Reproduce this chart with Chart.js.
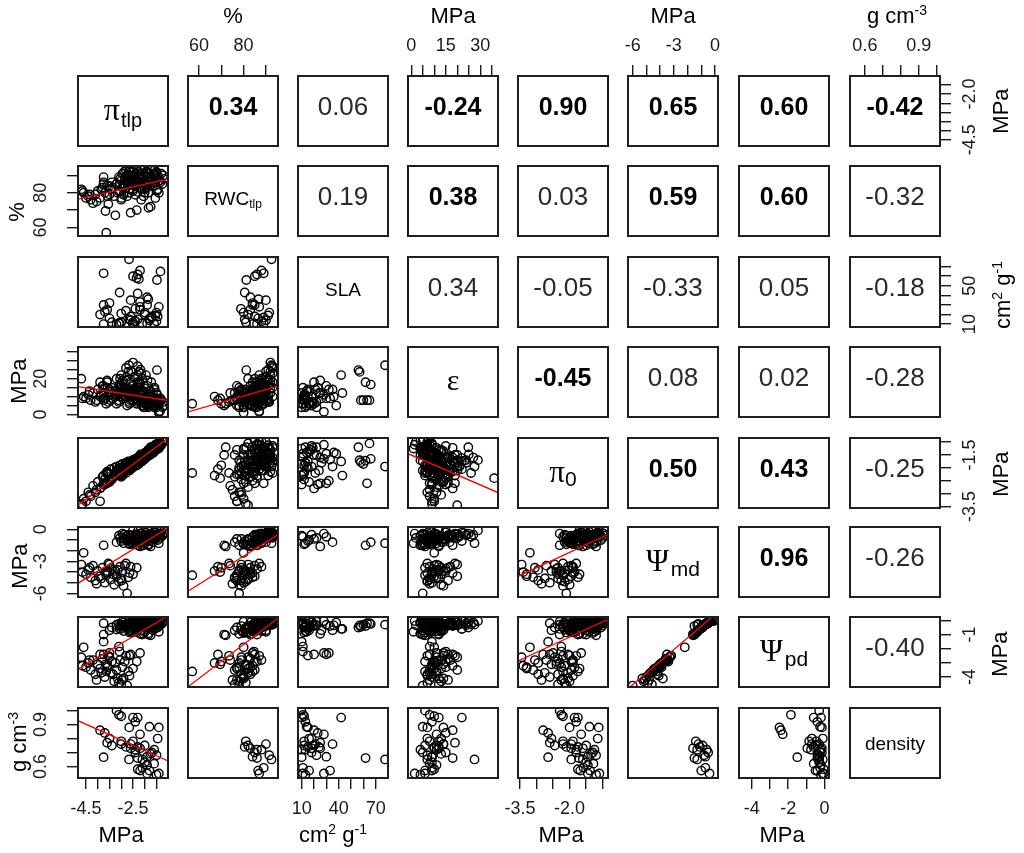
<!DOCTYPE html>
<html>
<head>
<meta charset="utf-8">
<script src="https://cdn.jsdelivr.net/npm/chart.js@4.4.1/dist/chart.umd.min.js"></script>
<style>
  body { margin: 0; background: #fff; width: 1024px; height: 853px; position: relative; overflow: hidden;
         font-family: "Liberation Sans", Arial, sans-serif; }
  canvas { position: absolute; }
  .cell { position: absolute; width: 90px; height: 70px; display: flex; align-items: center; justify-content: center;
          pointer-events: none; white-space: nowrap; line-height: 1; }
  .r { font-size: 26px; color: #2a2a2a; transform: translateY(-5px); }
  .r.sig { font-weight: bold; font-size: 25px; color: #000; }
  .sym { font-family: "Liberation Serif", "DejaVu Serif", serif; }
  .sub { position: relative; }
  .ttl { position: absolute; font-size: 22px; color: #000; white-space: nowrap; line-height: 1;
         transform: translate(-50%, -50%); }
  .ttl.rot { transform: translate(-50%, -50%) rotate(-90deg); }
  .ttl sup { font-size: 14px; vertical-align: 0; position: relative; top: -0.6em; }
</style>
</head>
<body>
<script>
const na = n => Array(n).fill(null)

// one entry per observation; groups: upper water-potential cluster (52), lower cluster (33),
// full records (13), high SLA (9), SLA without Ψmd (11), density records (22), density only (9), ε only (1),
// more upper cluster (20), more lower cluster (10)
const tlp = [
  -1.18,-1.25,-1.3,-1.35,-1.4,-1.45,-1.5,-1.55,-1.6,-1.65,
  -1.7,-1.72,-1.78,-1.8,-1.85,-1.9,-1.92,-1.95,-2.0,-2.05,
  -2.1,-2.12,-2.18,-2.2,-2.25,-2.3,-2.35,-2.4,-2.45,-2.5,
  -2.55,-2.6,-2.65,-2.7,-2.75,-2.8,-2.85,-2.9,-2.95,-3.0,
  -3.1,-3.2,-2.05,-1.75,-1.62,-2.28,-1.4,-2.62,-1.84,-2.15,
  -1.55,-2.9,
  -4.7,-4.6,-4.5,-4.4,-4.3,-4.2,-4.1,-4.0,-3.9,-3.8,
  -3.75,-3.7,-3.64,-3.6,-3.5,-3.45,-3.4,-3.3,-3.25,-3.2,
  -3.1,-3.05,-3.0,-2.95,-2.9,-2.8,-2.75,-2.7,-2.6,-2.5,
  -2.34,-3.55,-3.67,
  -2.5,-2.3,-2.0,-2.2,-1.9,-1.7,-2.6,-1.6,-1.5,-2.4,-1.4,-1.8,-2.1,
  -2.67,-2.3,-2.2,-2.5,-3.75,-1.48,-2.25,-1.33,-2.35,
  -3.07,-1.9,-1.85,-3.5,-3.75,-2.4,-2.0,-1.7,-2.6,-3.07,-1.55,
  -3.2,-3.1,-3.0,-2.5,-2.4,-2.3,-2.66,-1.8,-2.2,-1.45,
  -3.9,-3.7,-3.5,-3.6,-3.4,-3.75,-3.0,-2.8,-2.6,-2.2,
  -1.9,-1.5,
  -2.0,-1.9,-2.1,-1.75,-2.4,-1.6,-2.3,-3.0,-1.4,
  null,
  -1.22,-1.33,-1.48,-1.58,-1.68,-1.82,-1.88,-1.98,-2.02,-2.08,
  -2.15,-2.22,-2.32,-2.38,-2.48,-2.58,-2.68,-2.78,-2.88,-3.05,
  -4.65,-4.35,-4.05,-3.85,-3.58,-3.35,-3.15,-2.98,-2.85,-2.65
]
const rwc = [
  88,85,91,87,89,82,92,86,90,84,
  88,93,86,91,80,89,87,92,85,90,
  88,83,91,86,89,93,84,87,90,92,
  85,88,82,90,86,93,88,84,91,87,
  89,85,78,72,91,92,80,93,71.3,76,
  77,79,
  82,80,77,78,76,74,79,81,77,83,
  86,80,57,84,79,82,86,78,67,85,
  81,88,76,83,79,87,78,84,68.5,82,
  70,73.5,69.5,
  81,80.5,82,83,84,85,90,86,91.5,88,87,86.5,89,
  92.5,86,88,85,89,81.2,null,null,null,
  80.5,83,86.7,84,85,78.8,80,89,90,84.6,91,
  ...na(22),
  ...na(9),
  null,
  90,86,88,93,87,89,92,86,91,88,
  93,90,87,91,89,92,87,90,92,88,
  81,79,75,82,78,83,80,77,85,80
]
const sla = [
  ...na(52),
  ...na(33),
  12,15,20,25,30,18,35,10,22,13,28,16,11,
  77.6,61.8,66,60,63,56,57,65,58,
  43,38,36,32,30,26,22,17,14,11,19,
  9.7,11,12,10,13,42,15,14,28,18,
  20,23,16,25,12,10,21,24,18,33,
  11,13,
  ...na(9),
  null,
  ...na(20),
  ...na(10)
]
const eps = [
  5,4,8,2,6,9,12,7,14,5,
  10,18,8,11,4,16,6,22,9,13,
  20,5,25,11,17,27,7,14,21,29,
  10,18,6,24,12,26,15,9,19,22,
  16,13,4,6,9,15,1,10,5,8,
  5,11,
  20,10,9,11,8,12,7,14,10,16,
  12,9,6,18,11,8,15,13,10,20,
  7,17,12,9,14,19,5,11,8,13,
  6,7,9,
  8,10,6,12,9,5,14,4,7,11,1.5,6,9,
  27.5,18,16.7,8,8,24.8,23.8,8,8,
  12,5,10,14,16,9,4,6,13,15,7,
  6,8,10,12,9,22,14,5,11,7,
  18,15,13,19,11,9,14,12,10,9,
  6,4,
  9,11,7,13,15,8,10,12,7,
  36,
  7,9,11,15,8,13,19,10,16,12,
  23,18,12,20,16,24,14,21,17,20,
  9,13,8,11,15,9,12,16,10,7
]
const pi0 = [
  -0.98,-0.95,-1.12,-1.0,-1.2,-1.05,-1.3,-1.1,-1.35,-1.18,
  -1.45,-1.22,-1.25,-1.52,-1.3,-1.55,-1.38,-1.62,-1.42,-1.68,
  -1.5,-1.75,-1.48,-1.58,-1.85,-1.6,-1.9,-1.65,-1.95,-1.7,
  -2.02,-1.75,-2.1,-1.8,-1.85,-2.2,-1.9,-2.0,-2.3,-2.05,
  -2.1,-2.15,-1.7,-1.2,-1.4,-1.6,-1.25,-1.8,-1.5,-1.5,
  -1.3,-1.95,
  -3.45,-3.2,-3.3,-2.95,-3.1,-2.7,-2.95,-2.55,-3.3,-2.35,
  -2.3,-2.6,-2.2,-2.15,-2.45,-2.05,-2.4,-2.0,-2.3,-1.95,
  -2.15,-1.9,-2.35,-1.85,-2.2,-1.8,-2.1,-1.75,-2.05,-1.7,
  -1.9,-2.2,-2.4,
  -1.9,-1.75,-1.5,-1.6,-1.45,-1.3,-1.95,-1.25,-1.2,-1.8,-1.1,-1.38,-1.58,
  -1.95,-1.72,-1.65,-1.85,-2.6,-1.2,-1.7,-1.05,-1.78,
  -2.3,-1.45,-1.4,-2.5,-2.6,-1.8,-1.5,-1.3,-1.95,-2.25,-1.22,
  -2.3,-2.25,-2.2,-1.85,-1.8,-1.75,-2.0,-1.4,-1.65,-1.15,
  -2.8,-2.65,-2.55,-2.6,-2.45,-2.65,-2.2,-2.1,-1.95,-1.68,
  -1.45,-1.2,
  -1.5,-1.45,-1.6,-1.35,-1.8,-1.28,-1.75,-2.2,-1.12,
  -2.4,
  -1.0,-1.08,-1.22,-1.15,-1.4,-1.3,-1.5,-1.45,-1.6,-1.52,
  -1.72,-1.6,-1.8,-1.7,-1.92,-1.8,-2.05,-1.9,-2.15,-2.1,
  -3.4,-3.05,-2.85,-2.75,-2.25,-2.35,-2.05,-2.25,-1.95,-1.9
]
const psiMd = [
  -0.4,-0.6,-0.15,-0.8,-0.5,-1.0,-0.05,-0.7,-0.9,-1.2,
  -0.4,-0.6,-1.1,-0.5,-1.4,-0.7,-0.9,-0.3,-1.3,-0.6,
  -0.8,-1.5,-0.4,-1.0,-0.7,-0.5,-1.2,-0.9,-0.6,-0.1,
  -1.1,-0.8,-1.4,-0.5,-1.0,-0.7,-0.9,-1.3,-0.4,-1.1,
  -0.6,-1.2,-1.5,-1.6,-0.25,-0.1,-1.3,-0.8,-1.5,-1.2,
  -0.9,-0.9,
  -3.3,-2.2,-4.2,-3.8,-4.5,-3.4,-4.8,-3.9,-4.4,-3.6,
  -1.5,-5.0,-4.3,-4.1,-3.3,-4.7,-3.7,-5.2,-3.9,-4.4,
  -4.9,-3.5,-4.6,-4.0,-5.3,-3.2,-6.0,-4.5,-3.5,-4.2,
  -3.6,-3.2,-4.0,
  -1.4,-1.1,-0.9,-1.6,-0.7,-0.5,-1.2,-0.6,-0.8,-1.3,-0.4,-1.0,-0.7,
  -1.3,-1.5,-1.2,null,null,null,null,null,null,
  ...na(11),
  ...na(22),
  ...na(9),
  null,
  -0.35,-0.55,-0.45,-0.3,-0.75,-0.65,-0.45,-0.95,-0.55,-0.75,
  -0.35,-0.6,-0.85,-0.45,-0.7,-0.55,-0.95,-0.65,-0.5,-0.8,
  -4.0,-3.6,-5.1,-4.6,-3.9,-4.2,-3.8,-4.8,-3.4,-4.1
]
const psiPd = [
  -0.05,-0.2,0.0,-0.35,-0.15,-0.5,-0.02,-0.3,-0.4,-0.7,
  -0.1,-0.25,-0.6,-0.2,-0.9,-0.3,-0.45,-0.05,-0.8,-0.2,
  -0.35,-1.0,-0.1,-0.55,-0.3,-0.15,-0.7,-0.4,-0.25,-0.05,
  -0.6,-0.35,-0.85,-0.2,-0.5,-0.3,-0.45,-0.75,-0.1,-0.6,
  -0.25,-0.65,-0.95,-1.05,-0.05,0.0,-0.8,-0.3,-1.0,-0.7,
  -0.5,-0.4,
  -2.6,-1.9,-3.3,-3.0,-3.5,-2.8,-3.8,-3.1,-3.4,-2.7,
  -1.0,-4.0,-3.6,-3.2,-2.6,-3.7,-2.9,-4.3,-3.0,-3.5,
  -4.4,-2.8,-4.5,-3.3,-4.1,-2.5,-4.6,-3.6,-2.4,-3.4,
  -2.9,-2.5,-3.1,
  -0.85,-0.6,-0.4,-0.95,-0.3,-0.15,-0.7,-0.2,-0.35,-0.75,-0.05,-0.5,-0.25,
  -0.3,-0.4,-0.25,-0.3,-0.2,-0.5,-0.35,-0.2,-0.45,
  -0.6,-0.15,-0.35,-2.3,-2.4,-0.7,-0.1,-0.45,-0.8,-2.2,-0.3,
  -0.3,-1.85,null,-0.2,-0.4,-0.6,-2.48,-0.25,-2.3,-0.1,
  -2.4,null,-0.7,null,-0.5,-1.5,-0.3,null,-0.15,-0.4,
  -0.1,-0.2,
  -0.3,-0.2,-0.1,-0.4,-0.25,-0.6,-0.05,-0.45,-0.15,
  null,
  -0.1,-0.2,-0.12,-0.05,-0.3,-0.25,-0.12,-0.45,-0.18,-0.3,
  -0.08,-0.22,-0.4,-0.15,-0.3,-0.2,-0.45,-0.25,-0.15,-0.35,
  -3.2,-2.8,-4.2,-3.7,-3.3,-3.8,-4.1,-4.2,-2.9,-3.9
]
const dens = [
  ...na(52),
  ...na(33),
  0.78,0.74,0.75,0.73,0.67,0.70,0.76,0.72,0.68,0.72,0.55,0.57,0.59,
  0.65,0.66,null,null,null,null,null,null,null,
  ...na(11),
  1.0,0.97,0.96,0.95,0.92,0.95,0.88,0.885,0.83,0.80,
  0.86,0.84,0.80,0.77,0.75,0.666,0.76,0.74,0.73,0.57,
  0.55,0.54,
  0.63,0.61,0.65,0.69,0.70,0.62,0.58,0.78,0.88,
  null,
  ...na(20),
  ...na(10)
]

// variable order: πtlp, RWCtlp, SLA, ε, π0, Ψmd, Ψpd, density
const vars = [tlp, rwc, sla, eps, pi0, psiMd, psiPd, dens]
const axisMin = [-4.84, 55.1, 7, -1.4, -3.56, -6.34, -4.70, 0.517]
const axisMax = [-1.01, 95.4, 80, 37.7, -0.84, 0.22, 0.24, 1.019]
const tickMarks = [
  [-4.5, -4, -3.5, -3, -2.5, -2, -1.5],
  [60, 70, 80, 90],
  [10, 20, 30, 40, 50, 60, 70],
  [0, 5, 10, 15, 20, 25, 30, 35],
  [-3.5, -3, -2.5, -2, -1.5, -1],
  [-6, -5, -4, -3, -2, -1, 0],
  [-4, -3, -2, -1, 0],
  [0.6, 0.7, 0.8, 0.9, 1.0]
]
const xTickLabels = [['-4.5','-2.5'], ['60','80'], ['10','40','70'], ['0','15','30'], ['-3.5','-2.0'], ['-6','-3','0'], ['-4','-2','0'], ['0.6','0.9']]
const yTickLabels = [['-4.5','-2.0'], ['60','80'], ['10','50'], ['0','20'], ['-3.5','-1.5'], ['-6','-3','0'], ['-4','-1'], ['0.6','0.9']]

// fitted lines in significant panels: [row variable, column variable], value at left and right axis limit
const fitPairs = [[1,0],[3,0],[4,0],[5,0],[6,0],[7,0],[3,1],[5,1],[6,1],[4,3],[5,4],[6,4],[6,5]]
const fitLeft  = [76.3, 15.6, -3.45, -5.06, -3.45, 0.928, 1.5, -5.8, -4.68, -1.45, -4.4, -2.86, -4.82]
const fitRight = [87.8, 7.8, -0.85, 0.15, 0.33, 0.64, 15.9, -0.48, 0.15, -2.96, -0.48, 0.08, 0.6]

// correlations, upper triangle in reading order
const corr = ['0.34','0.06','-0.24','0.90','0.65','0.60','-0.42',
              '0.19','0.38','0.03','0.59','0.60','-0.32',
              '0.34','-0.05','-0.33','0.05','-0.18',
              '-0.45','0.08','0.02','-0.28',
              '0.50','0.43','-0.25',
              '0.96','-0.26',
              '-0.40']
const corrBold = [1,0,1,1,1,1,1, 0,1,0,1,1,0, 0,0,0,0,0, 1,0,0,0, 1,1,0, 1,0, 0]

const varSym = ['π', 'RWC', 'SLA', 'ε', 'π', 'Ψ', 'Ψ', 'density']
const varSub = ['tlp', 'tlp', '', '', '0', 'md', 'pd', '']

// layout
const P = 80, W = 90, H = 70
const colLeft = [78, 188, 298, 408, 518, 628, 739, 850]
const rowTop = [76, 166, 257, 347, 438, 527, 617, 708]
const tickFont = 18
const fontFamily = '"Liberation Sans", Arial, sans-serif'

Chart.defaults.font.family = fontFamily
Chart.defaults.font.size = tickFont
Chart.defaults.color = '#1a1a1a'

const mctx = document.createElement('canvas').getContext('2d')
mctx.font = tickFont + 'px "Liberation Sans"'
const widest = labels => Math.max(...labels.map(l => mctx.measureText(l).width))

const panelBox = {
  id: 'panelBox',
  afterDraw(chart) {
    const { ctx, chartArea: a } = chart
    ctx.save()
    ctx.strokeStyle = '#1e1e1e'
    ctx.lineWidth = 2
    ctx.strokeRect(a.left, a.top, a.right - a.left, a.bottom - a.top)
    ctx.restore()
  }
}

function axisOpts(v, pos, shown) {
  const horiz = pos === 'top' || pos === 'bottom'
  const labels = horiz ? xTickLabels[v] : yTickLabels[v]
  const opts = { type: 'linear', position: pos, min: axisMin[v], max: axisMax[v], display: shown }
  if (!shown) return opts
  const tl = 11
  const half = tickFont * 0.6
  let pad
  if (pos === 'top') pad = 30 - tl - half
  else if (pos === 'bottom') pad = 31 - tl - half
  else if (pos === 'left') pad = 37 - tl - widest(labels) / 2
  else pad = 30 - tl - widest(labels) / 2
  return Object.assign(opts, {
    afterBuildTicks: s => { s.ticks = tickMarks[v].map(t => ({ value: t })) },
    afterFit: s => { if (horiz) s.height = P; else s.width = P },
    grid: { drawOnChartArea: false, drawTicks: true, tickLength: tl, color: '#1a1a1a', lineWidth: 1.4 },
    border: { display: false },
    ticks: {
      autoSkip: false,
      padding: pad,
      color: '#1a1a1a',
      font: { family: fontFamily, size: tickFont },
      minRotation: horiz ? 0 : 90,
      maxRotation: horiz ? 0 : 90,
      crossAlign: horiz ? 'near' : 'center',
      callback: val => labels.find(l => Math.abs(parseFloat(l) - val) < 1e-6) || ''
    }
  })
}

for (let r = 0; r < 8; r++) {
  for (let c = 0; c < 8; c++) {
    const cv = document.createElement('canvas')
    cv.width = W + 2 * P
    cv.height = H + 2 * P
    cv.style.left = (colLeft[c] - P) + 'px'
    cv.style.top = (rowTop[r] - P) + 'px'
    document.body.appendChild(cv)

    const top = r === 0 && c % 2 === 1
    const bottom = r === 7 && c % 2 === 0
    const left = c === 0 && r % 2 === 1
    const right = c === 7 && r % 2 === 0

    const datasets = []
    if (r > c) {
      const k = fitPairs.findIndex(p => p[0] === r && p[1] === c)
      if (k >= 0) {
        datasets.push({
          data: [{ x: axisMin[c], y: fitLeft[k] }, { x: axisMax[c], y: fitRight[k] }],
          showLine: true, borderColor: '#ff0000', borderWidth: 1.3, pointRadius: 0, clip: 0
        })
      }
      const pts = []
      vars[c].forEach((x, i) => {
        const y = vars[r][i]
        if (x !== null && y !== null) pts.push({ x, y })
      })
      datasets.push({
        data: pts, pointRadius: 4.2, pointBorderWidth: 1.4,
        pointBorderColor: '#000', pointBackgroundColor: 'rgba(0,0,0,0)'
      })
    }

    new Chart(cv, {
      type: 'scatter',
      data: { datasets },
      options: {
        responsive: false,
        animation: false,
        events: [],
        layout: { padding: { left: left ? 0 : P, right: right ? 0 : P, top: top ? 0 : P, bottom: bottom ? 0 : P } },
        plugins: { legend: { display: false }, tooltip: { enabled: false } },
        scales: {
          x: axisOpts(c, top ? 'top' : 'bottom', top || bottom),
          y: axisOpts(r, right ? 'right' : 'left', left || right)
        }
      },
      plugins: [panelBox]
    })
  }
}

function addCell(r, c, html) {
  const d = document.createElement('div')
  d.className = 'cell'
  d.style.left = colLeft[c] + 'px'
  d.style.top = rowTop[r] + 'px'
  d.innerHTML = html
  document.body.appendChild(d)
}

let k = 0
for (let r = 0; r < 8; r++) {
  for (let c = r + 1; c < 8; c++) {
    addCell(r, c, `<span class="r${corrBold[k] ? ' sig' : ''}">${corr[k]}</span>`)
    k++
  }
}

// diagonal labels: greek symbols in serif, the rest in sans
const diagStyle = [
  { sym: 'font-size:32px', sub: 'font-size:20px;top:7px;margin-left:1px', shift: -2 },
  { sym: 'font-size:19px', sub: 'font-size:12px;top:3px', shift: -3 },
  { sym: 'font-size:19px', sub: '', shift: -3 },
  { sym: 'font-size:30px', sub: '', shift: -2 },
  { sym: 'font-size:31px', sub: 'font-size:21px;top:4px', shift: -2 },
  { sym: 'font-size:31px', sub: 'font-size:21px;top:5px;margin-left:2px', shift: -2 },
  { sym: 'font-size:31px', sub: 'font-size:21px;top:5px;margin-left:2px', shift: -2 },
  { sym: 'font-size:19px', sub: '', shift: 0 }
]
for (let i = 0; i < 8; i++) {
  const s = diagStyle[i]
  const greek = i === 0 || i >= 3 && i <= 6
  let html = `<span class="${greek ? 'sym' : ''}" style="${s.sym}">${varSym[i]}</span>`
  if (varSub[i]) html += `<span class="sub" style="${s.sub}">${varSub[i]}</span>`
  addCell(i, i, `<div style="transform:translateY(${s.shift}px)">${html}</div>`)
}

// outer axis titles
const titleText = ['%', 'MPa', 'MPa', 'g cm<sup>-3</sup>',
                   'MPa', 'cm<sup>2</sup> g<sup>-1</sup>', 'MPa', 'MPa',
                   '%', 'MPa', 'MPa', 'g cm<sup>-3</sup>',
                   'MPa', 'cm<sup>2</sup> g<sup>-1</sup>', 'MPa', 'MPa']
const titleX = [233, 453, 673, 897, 121, 333, 561, 782, 17, 19, 20, 19, 1001, 1003, 1001, 1000]
const titleY = [16, 16, 16, 16, 835, 835, 835, 835, 212, 381, 566, 742, 111, 295, 474, 654]
titleText.forEach((t, i) => {
  const d = document.createElement('div')
  d.className = 'ttl' + (i >= 8 ? ' rot' : '')
  d.style.left = titleX[i] + 'px'
  d.style.top = titleY[i] + 'px'
  d.innerHTML = t
  document.body.appendChild(d)
})
</script>
</body>
</html>
